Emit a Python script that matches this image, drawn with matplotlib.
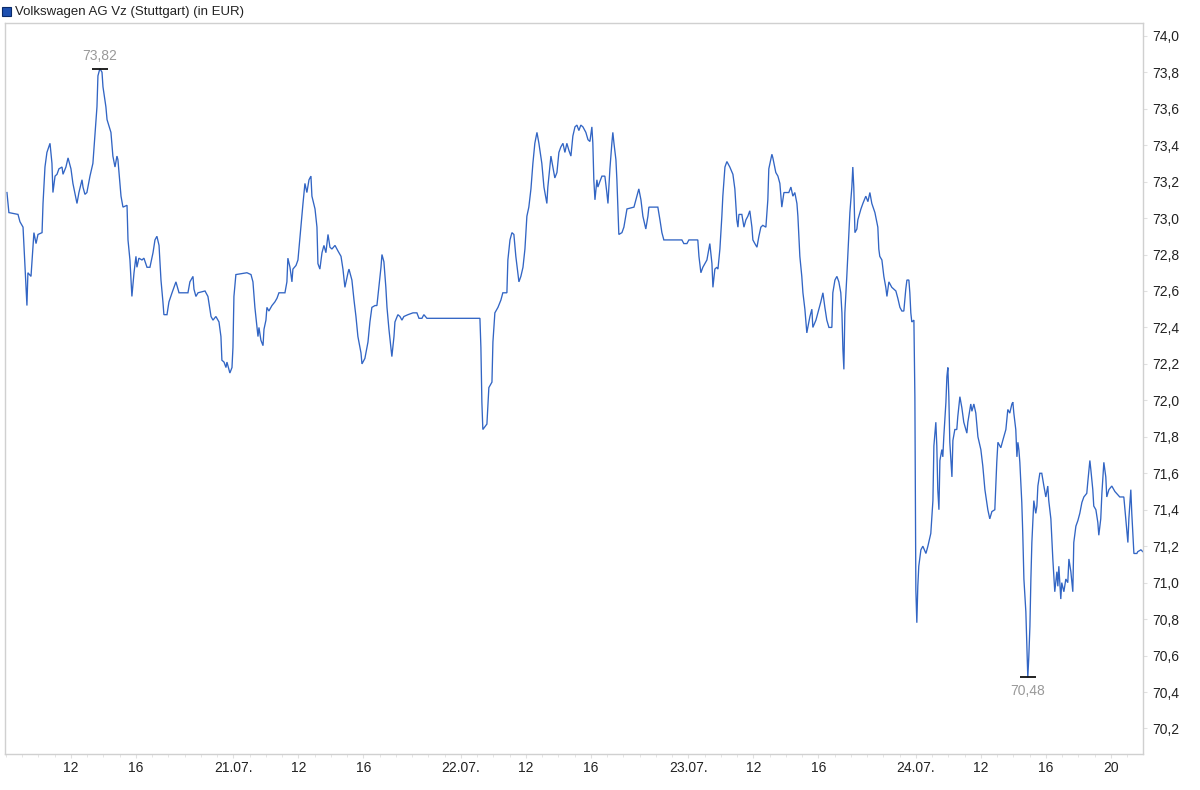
import matplotlib
matplotlib.use("Agg")
import matplotlib.pyplot as plt
import numpy as np
from matplotlib.ticker import FixedLocator, MultipleLocator, FuncFormatter

plt.rcParams['font.family'] = ['Liberation Sans', 'DejaVu Sans']

title = "Volkswagen AG Vz (Stuttgart) (in EUR)"

# trading hours since 20.07. 08:00 (14 trading hours per day, 08:00-22:00)
hours = [0.06, 0.18, 0.74, 0.86, 1.05, 1.11, 1.23, 1.29, 1.35, 1.54, 1.66, 1.72, 1.85, 1.97, 2.22, 2.28, 2.40, 2.52, 2.71, 2.83,
         2.89, 3.02, 3.14, 3.26, 3.45, 3.51, 3.69, 3.82, 4.00, 4.12, 4.37, 4.49, 4.68, 4.74, 4.86, 4.98, 5.17, 5.35, 5.60, 5.66,
         5.78, 5.91, 5.97, 6.15, 6.22, 6.46, 6.58, 6.71, 6.83, 6.89, 7.08, 7.20, 7.45, 7.51, 7.63, 7.75, 7.88, 8.00, 8.06, 8.18,
         8.37, 8.49, 8.68, 8.86, 9.05, 9.17, 9.29, 9.42, 9.54, 9.66, 9.72, 9.91, 10.03, 10.22, 10.46, 10.65, 11.20, 11.32, 11.51, 11.57,
         11.69, 11.82, 12.25, 12.43, 12.62, 12.74, 12.92, 13.11, 13.23, 13.29, 13.42, 13.54, 13.60, 13.78, 13.91, 13.97, 14.03, 14.15, 14.83, 15.08,
         15.20, 15.32, 15.45, 15.51, 15.57, 15.69, 15.82, 15.88, 16.00, 16.06, 16.18, 16.37, 16.55, 16.68, 16.80, 17.17, 17.29, 17.35, 17.48, 17.60,
         17.66, 17.85, 17.97, 18.03, 18.15, 18.28, 18.40, 18.52, 18.65, 18.77, 18.83, 19.02, 19.14, 19.20, 19.32, 19.45, 19.57, 19.69, 19.82, 19.94,
         20.06, 20.25, 20.43, 20.62, 20.74, 20.86, 21.05, 21.11, 21.29, 21.42, 21.54, 21.66, 21.85, 21.91, 22.09, 22.28, 22.40, 22.52, 22.71, 22.83,
         22.95, 23.08, 23.14, 23.26, 23.38, 23.45, 23.57, 23.69, 23.75, 23.88, 23.94, 24.12, 24.25, 24.37, 24.49, 24.74, 25.05, 25.29, 25.42, 25.60,
         25.72, 25.91, 26.09, 29.17, 29.23, 29.29, 29.35, 29.60, 29.72, 29.91, 29.97, 30.09, 30.28, 30.46, 30.58, 30.83, 30.89, 31.02, 31.14, 31.26,
         31.38, 31.57, 31.69, 31.82, 31.94, 32.06, 32.18, 32.31, 32.43, 32.55, 32.68, 32.80, 32.98, 33.11, 33.29, 33.35, 33.54, 33.66, 33.78, 33.91,
         34.03, 34.15, 34.28, 34.40, 34.52, 34.65, 34.77, 34.89, 35.02, 35.14, 35.26, 35.38, 35.51, 35.69, 35.82, 35.94, 36.06, 36.12, 36.18, 36.25,
         36.37, 36.43, 36.55, 36.68, 36.86, 36.98, 37.05, 37.17, 37.29, 37.35, 37.42, 37.54, 37.60, 37.66, 37.72, 37.91, 38.03, 38.22, 38.65, 38.83,
         38.95, 39.08, 39.20, 39.38, 39.51, 39.57, 40.12, 40.25, 40.37, 40.49, 41.60, 41.72, 41.91, 42.03, 42.58, 42.65, 42.77, 42.89, 43.14, 43.26,
         43.32, 43.45, 43.51, 43.63, 43.75, 43.82, 43.94, 44.06, 44.12, 44.25, 44.37, 44.55, 44.74, 44.86, 44.98, 45.05, 45.11, 45.29, 45.42, 45.54,
         45.66, 45.78, 45.91, 45.97, 46.09, 46.22, 46.34, 46.46, 46.58, 46.77, 46.89, 46.95, 47.14, 47.20, 47.38, 47.51, 47.63, 47.75, 47.88, 48.18,
         48.31, 48.43, 48.55, 48.68, 48.74, 48.86, 48.98, 49.05, 49.17, 49.29, 49.35, 49.48, 49.60, 49.66, 49.85, 49.97, 50.15, 50.28, 50.40, 50.52,
         50.65, 50.83, 50.89, 51.02, 51.14, 51.26, 51.38, 51.45, 51.51, 51.57, 51.63, 51.75, 51.82, 51.94, 52.06, 52.12, 52.18, 52.25, 52.37, 52.43,
         52.62, 52.74, 52.92, 53.05, 53.17, 53.29, 53.48, 53.66, 53.72, 53.78, 53.91, 54.03, 54.15, 54.22, 54.34, 54.52, 54.77, 54.89, 55.02, 55.14,
         55.26, 55.38, 55.45, 55.57, 55.63, 55.69, 55.75, 55.88, 55.94, 56.00, 56.06, 56.12, 56.18, 56.31, 56.43, 56.62, 56.74, 56.92, 57.05, 57.11,
         57.23, 57.29, 57.35, 57.42, 57.48, 57.60, 57.66, 57.72, 57.85, 57.91, 57.97, 58.03, 58.09, 58.22, 58.28, 58.40, 58.52, 58.58, 58.71, 58.83,
         58.95, 59.14, 59.20, 59.38, 59.45, 59.57, 59.69, 59.82, 60.00, 60.12, 60.25, 60.43, 60.55, 60.68, 60.86, 60.98, 61.05, 61.23, 61.35, 61.54,
         61.66, 61.78, 61.91, 61.97, 62.03, 62.15, 62.22, 62.28, 62.34, 62.40, 62.52, 62.58, 62.65, 62.77, 62.83, 62.89, 62.95, 63.02, 63.08, 63.14,
         63.26, 63.38, 63.45, 63.51, 63.63, 63.75, 63.88, 64.00, 64.12, 64.18, 64.31, 64.43, 64.55, 64.68, 64.74, 64.80, 64.92, 64.98, 65.11, 65.23,
         65.35, 65.42, 65.54, 65.66, 65.72, 65.85, 65.97, 66.09, 66.22, 66.34, 66.52, 66.58, 66.71, 66.77, 66.89, 66.95, 67.08, 67.20, 67.26, 67.38,
         67.45, 67.57, 67.69, 67.75, 67.88, 68.06, 68.25, 68.55, 68.80, 68.92, 69.05, 69.11, 69.23, 69.29, 69.42, 69.60, 69.66, 69.85, 69.97]

price = [73.14, 73.03, 73.02, 72.98, 72.95, 72.84, 72.62, 72.52, 72.70, 72.68, 72.84, 72.92, 72.86, 72.91, 72.92, 73.08, 73.28, 73.36, 73.41, 73.30,
         73.14, 73.23, 73.24, 73.27, 73.28, 73.24, 73.28, 73.33, 73.27, 73.19, 73.08, 73.14, 73.21, 73.17, 73.13, 73.14, 73.23, 73.30, 73.61, 73.78,
         73.82, 73.80, 73.72, 73.61, 73.54, 73.47, 73.34, 73.28, 73.34, 73.32, 73.12, 73.06, 73.07, 72.88, 72.77, 72.57, 72.70, 72.79, 72.73, 72.78,
         72.77, 72.78, 72.73, 72.73, 72.81, 72.88, 72.90, 72.85, 72.66, 72.54, 72.47, 72.47, 72.54, 72.59, 72.65, 72.59, 72.59, 72.65, 72.68, 72.61,
         72.57, 72.59, 72.60, 72.57, 72.46, 72.44, 72.46, 72.43, 72.35, 72.22, 72.21, 72.18, 72.21, 72.15, 72.18, 72.29, 72.57, 72.69, 72.70, 72.69,
         72.65, 72.51, 72.40, 72.35, 72.40, 72.33, 72.30, 72.39, 72.44, 72.51, 72.49, 72.52, 72.54, 72.56, 72.59, 72.59, 72.65, 72.78, 72.73, 72.65,
         72.72, 72.74, 72.77, 72.83, 72.95, 73.08, 73.19, 73.14, 73.21, 73.23, 73.12, 73.05, 72.95, 72.75, 72.72, 72.81, 72.85, 72.81, 72.91, 72.84,
         72.83, 72.85, 72.82, 72.79, 72.72, 72.62, 72.70, 72.72, 72.66, 72.55, 72.46, 72.35, 72.26, 72.20, 72.23, 72.32, 72.43, 72.51, 72.52, 72.52,
         72.62, 72.73, 72.80, 72.76, 72.62, 72.51, 72.39, 72.29, 72.24, 72.35, 72.43, 72.47, 72.46, 72.44, 72.46, 72.47, 72.48, 72.48, 72.45, 72.45,
         72.47, 72.45, 72.45, 72.45, 72.29, 71.99, 71.84, 71.87, 72.07, 72.10, 72.32, 72.48, 72.51, 72.55, 72.59, 72.59, 72.77, 72.88, 72.92, 72.91,
         72.79, 72.65, 72.68, 72.73, 72.83, 73.01, 73.06, 73.16, 73.30, 73.41, 73.47, 73.41, 73.30, 73.17, 73.08, 73.17, 73.34, 73.28, 73.22, 73.25,
         73.36, 73.39, 73.41, 73.36, 73.41, 73.37, 73.34, 73.45, 73.50, 73.51, 73.48, 73.51, 73.50, 73.47, 73.43, 73.42, 73.50, 73.41, 73.21, 73.10,
         73.21, 73.17, 73.20, 73.23, 73.23, 73.14, 73.08, 73.27, 73.41, 73.47, 73.41, 73.32, 73.21, 73.06, 72.91, 72.92, 72.95, 73.05, 73.06, 73.12,
         73.16, 73.10, 73.01, 72.94, 73.01, 73.06, 73.06, 72.99, 72.92, 72.88, 72.88, 72.86, 72.86, 72.88, 72.88, 72.79, 72.70, 72.73, 72.77, 72.83,
         72.86, 72.75, 72.62, 72.72, 72.73, 72.72, 72.83, 73.01, 73.12, 73.28, 73.31, 73.28, 73.24, 73.16, 72.99, 72.95, 73.02, 73.02, 72.95, 72.99,
         73.01, 73.04, 72.95, 72.88, 72.86, 72.84, 72.90, 72.95, 72.96, 72.95, 73.10, 73.27, 73.35, 73.33, 73.25, 73.23, 73.19, 73.06, 73.14, 73.14,
         73.17, 73.12, 73.14, 73.08, 73.01, 72.79, 72.68, 72.59, 72.50, 72.37, 72.40, 72.46, 72.50, 72.40, 72.44, 72.48, 72.54, 72.59, 72.51, 72.44,
         72.40, 72.40, 72.59, 72.66, 72.68, 72.65, 72.59, 72.48, 72.28, 72.17, 72.48, 72.68, 72.81, 73.03, 73.17, 73.28, 73.17, 72.92, 72.94, 72.99,
         73.05, 73.08, 73.12, 73.09, 73.14, 73.08, 73.03, 72.95, 72.83, 72.79, 72.77, 72.68, 72.62, 72.57, 72.65, 72.62, 72.60, 72.56, 72.51, 72.49,
         72.49, 72.61, 72.66, 72.66, 72.59, 72.48, 72.43, 72.44, 72.02, 70.96, 70.78, 70.98, 71.09, 71.18, 71.20, 71.16, 71.20, 71.27, 71.45, 71.75,
         71.88, 71.75, 71.51, 71.40, 71.67, 71.73, 71.69, 71.80, 71.99, 72.13, 72.18, 72.02, 71.77, 71.58, 71.78, 71.84, 71.84, 71.91, 72.02, 71.96,
         71.88, 71.82, 71.88, 71.98, 71.94, 71.98, 71.93, 71.80, 71.73, 71.64, 71.51, 71.40, 71.35, 71.39, 71.40, 71.66, 71.77, 71.74, 71.78, 71.84,
         71.95, 71.93, 71.98, 71.99, 71.93, 71.84, 71.69, 71.77, 71.73, 71.66, 71.44, 71.27, 71.02, 70.84, 70.65, 70.48, 70.59, 70.76, 71.02, 71.22,
         71.45, 71.38, 71.42, 71.53, 71.60, 71.60, 71.53, 71.47, 71.53, 71.45, 71.35, 71.13, 70.95, 71.06, 70.98, 71.09, 70.91, 71.00, 70.95, 71.02,
         71.00, 71.13, 71.06, 70.95, 71.22, 71.31, 71.34, 71.38, 71.44, 71.47, 71.49, 71.55, 71.67, 71.62, 71.51, 71.42, 71.40, 71.33, 71.26, 71.35,
         71.49, 71.66, 71.58, 71.47, 71.51, 71.53, 71.50, 71.47, 71.47, 71.35, 71.22, 71.35, 71.51, 71.38, 71.16, 71.16, 71.17, 71.18, 71.17]

xtick_pos = [4, 8, 14, 18, 22, 28, 32, 36, 42, 46, 50, 56, 60, 64, 68]
xtick_labels = ["12", "16", "21.07.", "12", "16", "22.07.", "12", "16", "23.07.", "12", "16", "24.07.", "12", "16", "20"]
ytick_vals = [70.2, 70.4, 70.6, 70.8, 71.0, 71.2, 71.4, 71.6, 71.8, 72.0, 72.2, 72.4, 72.6, 72.8, 73.0, 73.2, 73.4, 73.6, 73.8, 74.0]

hours_a = np.array(hours)
price_a = np.array(price)

fig = plt.figure(figsize=(12, 7.9), dpi=100)
ax = fig.add_axes([5/1200, 1 - 754/790, (1143-5)/1200, (754-23)/790])

line_color = '#3265c4'
ax.plot(hours_a, price_a, color=line_color, lw=0.95, solid_joinstyle='miter')

ax.set_xlim(-0.06, 69.98)
ax.set_ylim(70.06, 74.07)

# max / min markers
imax = int(np.argmax(price_a))
imin = int(np.argmin(price_a))
for i, off, va in [(imax, 4, 'bottom'), (imin, -5, 'top')]:
    ax.plot([hours_a[i]], [price_a[i]], marker='_', markersize=12, mew=1.3, color='#111111')
    ax.annotate(f"{price_a[i]:.2f}".replace('.', ','), (hours_a[i], price_a[i]),
                xytext=(0, off), textcoords='offset points', ha='center', va=va,
                fontsize=10, color='#999999')

# axes styling
for s in ax.spines.values():
    s.set_color('#d0d0d0')
    s.set_linewidth(1.0)

ax.yaxis.tick_right()
ax.yaxis.set_major_locator(FixedLocator(ytick_vals))
ax.yaxis.set_major_formatter(FuncFormatter(lambda v, p: f"{v:.1f}".replace('.', ',')))
ax.tick_params(axis='y', which='both', length=3, color='#e0e0e0', pad=4,
               labelsize=10, labelcolor='#222222')

ax.set_xticks(xtick_pos)
ax.set_xticklabels(xtick_labels)
ax.xaxis.set_minor_locator(MultipleLocator(1))
ax.tick_params(axis='x', which='major', length=3, color='#e0e0e0', pad=2,
               labelsize=10, labelcolor='#222222')
ax.tick_params(axis='x', which='minor', length=2, color='#e0e0e0')

# legend-like title
fig.patches.append(plt.Rectangle((2/1200, 1 - 16/790), 9/1200, 9/790, transform=fig.transFigure,
                                 facecolor='#1e50b0', edgecolor='#0a2a6a', lw=0.8))
fig.text(15/1200, 1 - 11.5/790, title, fontsize=9.5, color='#222222', va='center', ha='left')

fig.savefig('out.png', dpi=100, facecolor='white')
